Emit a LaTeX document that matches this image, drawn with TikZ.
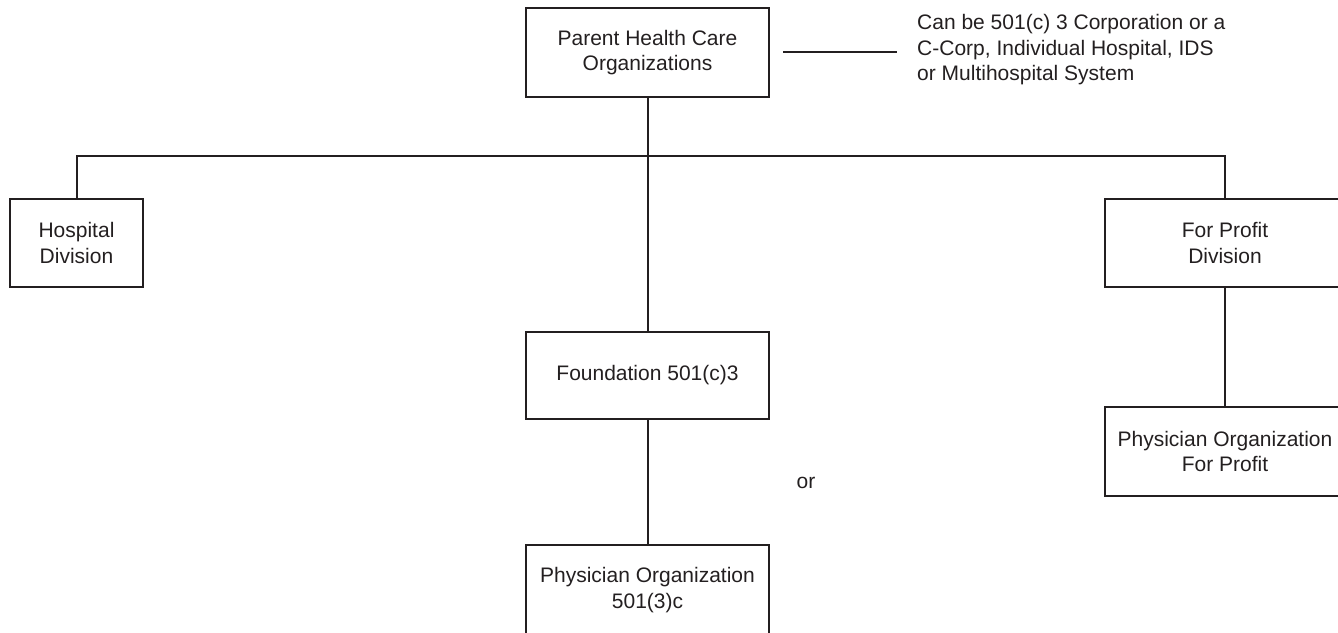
\documentclass[tikz,border=0pt]{standalone}
\usepackage{fontspec}
\setmainfont{Liberation Sans}
\definecolor{ink}{HTML}{231F20}
\begin{document}
\begin{tikzpicture}[x=1pt,y=-1pt,
  orgbox/.style={draw=ink, line width=1.6pt, inner sep=0pt, align=center,
    text=ink, font=\fontsize{21}{25.5}\selectfont},
  label/.style={inner sep=0pt, text=ink, font=\fontsize{21}{25.5}\selectfont},
  link/.style={draw=ink, line width=2pt}]
\useasboundingbox (0,0) rectangle (1338,632);

% boxes
\node[orgbox, minimum width=243pt, minimum height=89pt] (parent) at (647.5,52.5)
  {Parent Health Care\\Organizations};
\node[orgbox, minimum width=133pt, minimum height=88pt] (hosp) at (76.5,243)
  {Hospital\\Division};
\node[orgbox, minimum width=240pt, minimum height=88pt] (fpd) at (1225,243)
  {For Profit\\Division};
\node[orgbox, minimum width=243pt, minimum height=87pt] (found) at (647.5,375.5)
  {Foundation 501(c)3};
\node[orgbox, minimum width=243pt, minimum height=90pt] (po1) at (647.5,590)
  {Physician Organization\\501(3)c};
\node[orgbox, minimum width=240pt, minimum height=89pt] (po2) at (1225,451.5)
  {Physician Organization\\For Profit};

% side note
\node[label, anchor=west, align=left] (note) at (917,50)
  {Can be 501(c) 3 Corporation or a\\C-Corp, Individual Hospital, IDS\\or Multihospital System};
\coordinate (noteA) at (783,52);
\coordinate (noteB) at (897,52);
\draw[link] (noteA) -- (noteB);

\node[label] (or) at (806,483) {or};

% connectors
\coordinate (bus) at (647.5,156);
\draw[link] (parent.south) -- (found.north);
\draw[link] (hosp.north) -- (hosp.north |- bus) -- (fpd.north |- bus) -- (fpd.north);
\draw[link] (found.south) -- (po1.north);
\draw[link] (fpd.south) -- (po2.north);
\end{tikzpicture}
\end{document}
